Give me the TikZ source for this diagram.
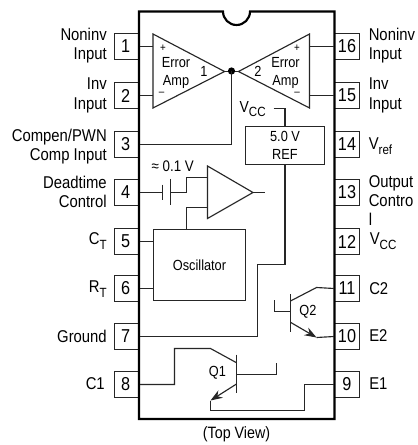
\documentclass[tikz,border=0pt]{standalone}
\usepackage{fontspec}
\setmainfont[FakeStretch=0.87]{Liberation Sans}
\usetikzlibrary{arrows.meta,calc}
\newcommand{\lbl}{\fontsize{12.8}{14.4}\selectfont}
\newcommand{\ins}{\fontsize{11}{13.4}\selectfont}
\newcommand{\subs}[1]{\raisebox{-.28em}{\fontsize{10}{10}\selectfont #1}}
\tikzset{
  x=0.75pt,y=-0.75pt,
  wire/.style={line width=0.85pt,color=black!85,line join=miter},
  thick wire/.style={line width=1.6pt,color=black},
  pinbox/.style={draw,line width=0.75pt,color=black!85,text=black,minimum width=18.75pt,minimum height=19.5pt,inner sep=0pt,font=\fontsize{14}{14}\selectfont},
  block/.style={draw,line width=0.8pt,color=black!85,text=black,inner sep=0pt,align=center},
  leftlabel/.style={anchor=east,align=right,inner sep=0pt,font=\lbl},
  rightlabel/.style={anchor=west,align=left,inner sep=0pt,font=\lbl},
  inner label/.style={inner sep=0pt,font=\ins,align=center},
  sign/.style={inner sep=0pt,font=\fontsize{8.5}{9}\selectfont},
  tip/.style={-{Stealth[length=9pt,width=6.5pt]}}
}
\begin{document}
\begin{tikzpicture}
\useasboundingbox (0,0) rectangle (417,445);
% pins
\foreach \n/\y in {1/46.5,2/95.5,3/144.5,4/192.5,5/241.5,6/288.5,7/336.5,8/384.5}
  \node[pinbox] (p\n) at (127,\y) {\hspace*{-2pt}\n};
\foreach \n/\y in {16/46.5,15/95.5,14/144.5,13/192.5,12/241.5,11/288.5,10/336.5,9/384.5}
  \node[pinbox] (p\n) at (347,\y) {\n};
% package outline
\fill[white] (139,11.5) rectangle (334.5,419);
\draw[thick wire] (139,11.5) -- (223,11.5) arc[start angle=180,end angle=0,radius=13.5] -- (334.5,11.5) -- (334.5,419) -- (139,419) -- cycle;
% left labels
\node[leftlabel] at (107,45.5) {Noninv\\Input};
\node[leftlabel] at (107,95.5) {Inv\\Input};
\node[leftlabel] at (107,146.5) {Compen/PWN\\Comp Input};
\node[leftlabel] at (107,192) {Deadtime\\Control};
\node[leftlabel] at (107,241) {C\subs{T}};
\node[leftlabel] at (107,289) {R\subs{T}};
\node[leftlabel] at (107,336) {Ground};
\node[leftlabel] at (105,384) {C1};
% right labels
\node[rightlabel] at (368.5,45.5) {Noninv\\Input};
\node[rightlabel] at (368.5,95.5) {Inv\\Input};
\node[rightlabel] at (368.5,146) {V\subs{ref}};
\node[rightlabel,anchor=north west] at (368.5,175) {Output\\Contro\\l};
\node[rightlabel] at (369.5,241) {V\subs{CC}};
\node[rightlabel] at (369,289) {C2};
\node[rightlabel] at (369,336) {E2};
\node[rightlabel] at (369,384) {E1};
\node[inner sep=0pt,font=\fontsize{12.3}{13}\selectfont] (view) at (236.5,434) {(Top View)};
% error amps
\coordinate (dot) at (231.5,71);
\coordinate (a1in) at (153,46.5);
\coordinate (a1inv) at (153,95.5);
\coordinate (a2in) at (309.5,46.5);
\coordinate (a2inv) at (309.5,95.5);
\draw[wire] (153,34) -- (224.5,71.5) -- (153,108) -- cycle;
\draw[wire] (309.5,34) -- (238.5,71.5) -- (309.5,108) -- cycle;
\draw[wire] (224.5,71.5) -- (238.5,71.5);
\fill (dot) circle[radius=3.6];
\draw[wire] (p1.east) -- (a1in);
\draw[wire] (p2.east) -- (a1inv);
\draw[wire] (p16.west) -- (a2in);
\draw[wire] (p15.west) -- (a2inv);
\draw[wire] (dot) |- (p3.east);
\node[sign] at (163,48.5) {+};
\node[sign] at (161.5,93.5) {--};
\node[inner label] at (176,73) {Error\\Amp};
\node[inner label] at (204,71) {1};
\node[sign] at (297,48.5) {+};
\node[sign] at (297,93.5) {--};
\node[inner label] at (285.5,73) {Error\\Amp};
\node[inner label] at (258,71) {2};
% reference
\node[block,font=\ins,minimum width=59.25pt,minimum height=28.5pt] (ref) at (285,145.5) {5.0 V\\REF};
\node[inner label,font=\fontsize{12}{13}\selectfont,anchor=east] (vcc) at (266,109) {V\subs{CC}};
\coordinate (vccend) at (273.5,108.5);
\draw[wire] (vccend) -| (ref.north);
\coordinate (refa) at (257.5,264.5);
\draw[wire] (ref.south) |- (refa) |- (p7.east);
% deadtime comparator
\node[block,minimum width=69pt,minimum height=53.25pt,font=\ins] (osc) at (199.5,265) {Oscillator};
\node[inner label,font=\fontsize{11.5}{13}\selectfont] (dtv) at (172.7,166.5) {≈ 0.1 V};
\coordinate (pl1t) at (162.5,184.5);
\coordinate (pl1b) at (162.5,199.5);
\coordinate (pl2t) at (170.5,179);
\coordinate (pl2b) at (170.5,205);
\coordinate (cmpplus) at (207.5,177.5);
\coordinate (cmpminus) at (207.5,207.5);
\coordinate (cmpout) at (264.5,192.5);
\draw[wire] (207.5,166) -- (253,192.5) -- (207.5,218.5) -- cycle;
\draw[wire] (253,192.5) -- (cmpout);
\draw[wire] (p4.east) -- (162.5,192.5);
\draw[wire] (pl1t) -- (pl1b);
\draw[wire] (pl2t) -- (pl2b);
\draw[wire] (170.5,192.5) -- (186.5,192.5) |- (cmpplus);
\draw[wire] (cmpminus) -- (186.5,207.5) -- (186.5,229.5);
\draw[wire] (p5.east) -- (p5.east -| osc.west);
\draw[wire] (p6.east) -- (p6.east -| osc.west);
% Q2
\coordinate (q2bt) at (290.5,294);
\coordinate (q2bb) at (290.5,332);
\coordinate (q2e) at (316.5,337.5);
\draw[wire] (q2bt) -- (q2bb);
\draw[wire] (290.5,311.5) -- (274.5,311.5) -- (274.5,300);
\draw[wire] (290.5,301) -- (316.5,287.5) -- (p11.west);
\draw[wire,tip] (290.5,322.3) -- (q2e);
\draw[wire] (q2e) -- (p10.west);
\node[inner label] at (308,311.5) {Q2};
% Q1
\coordinate (q1bt) at (236.5,354.5);
\coordinate (q1bb) at (236.5,392.5);
\coordinate (q1e) at (210.5,400.5);
\draw[wire] (q1bt) -- (q1bb);
\draw[wire] (236.5,374.5) -- (276.5,374.5) -- (276.5,362.5);
\draw[wire] (236.5,362.7) -- (210.5,348.5) -- (174.5,348.5) -- (174.5,384.5) -- (p8.east);
\draw[wire,tip] (236.5,384) -- (q1e);
\draw[wire] (q1e) -- (210.5,410.5) -- (304.5,410.5) -- (304.5,384.5) -- (p9.west);
\node[inner label] at (217.5,373) {Q1};
\end{tikzpicture}
\end{document}
